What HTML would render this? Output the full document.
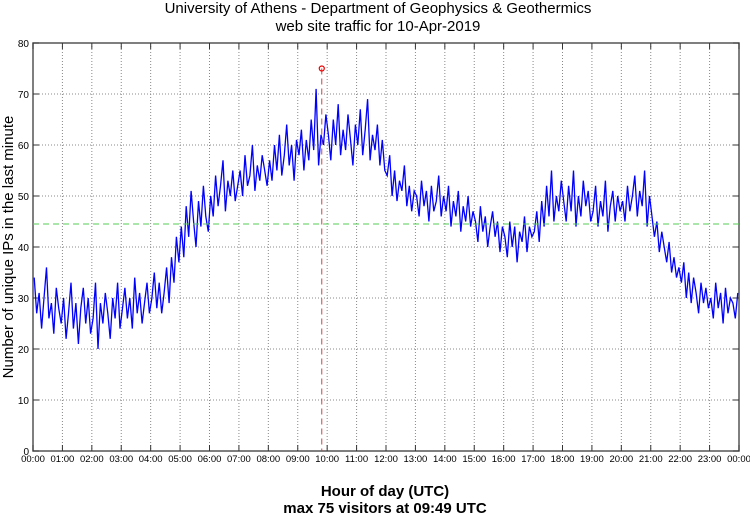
<!DOCTYPE html>
<html><head><meta charset="utf-8"><style>
body{margin:0;background:#fff;width:750px;height:515px;overflow:hidden;font-family:"Liberation Sans",sans-serif}
</style></head><body>
<svg id="chart" width="750" height="515" xmlns="http://www.w3.org/2000/svg" font-family="Liberation Sans, sans-serif">
<text x="378" y="13" text-anchor="middle" font-size="15">University of Athens - Department of Geophysics &amp; Geothermics</text>
<text x="378" y="31" text-anchor="middle" font-size="15">web site traffic for 10-Apr-2019</text>
<text transform="translate(13,247) rotate(-90)" text-anchor="middle" font-size="15">Number of unique IPs in the last minute</text>
<text x="385" y="496" text-anchor="middle" font-size="15" font-weight="bold">Hour of day (UTC)</text>
<text x="385" y="513" text-anchor="middle" font-size="15" font-weight="bold">max 75 visitors at 09:49 UTC</text>
<g id="grid"></g><g id="series"></g><g id="overlay"></g>
</svg>
<script>
const xTickLabels=["00:00","01:00","02:00","03:00","04:00","05:00","06:00","07:00","08:00","09:00","10:00","11:00","12:00","13:00","14:00","15:00","16:00","17:00","18:00","19:00","20:00","21:00","22:00","23:00","00:00"];
const yTicks=[0,10,20,30,40,50,60,70,80];
const visitors=[
34,27,31,24,30,36,26,29,23,32,28,25,
30,22,27,33,24,29,21,28,32,25,30,23,
26,33,20,29,25,31,27,22,30,26,33,24,
28,32,26,30,24,34,27,31,25,29,33,27,
30,35,28,33,27,31,36,29,38,33,42,37,
44,38,48,42,51,45,40,49,44,52,46,43,
50,46,54,48,52,57,47,53,50,55,49,52,
55,50,58,52,54,60,51,56,53,58,55,52,
57,53,60,55,62,54,58,64,56,60,53,61,
58,63,55,61,57,65,59,71,56,62,60,66,
62,57,65,60,68,58,63,59,66,61,56,64,
60,67,58,63,69,57,62,59,64,56,61,55,
54,58,50,55,49,53,51,56,48,52,47,51,
50,46,53,48,51,45,52,47,49,54,46,50,
47,52,44,49,46,51,43,48,45,50,44,47,
45,41,48,43,46,40,44,47,42,45,39,44,
42,38,45,40,44,37,43,41,46,39,44,42,
43,47,41,49,44,52,46,55,45,50,47,53,
49,45,52,47,55,44,50,46,53,48,51,45,
47,52,44,49,46,53,43,48,51,45,50,47,
49,45,52,47,50,54,46,51,48,55,44,50,
46,42,45,39,43,40,37,41,35,38,34,36,
33,37,30,35,29,34,31,27,33,29,32,28,
30,26,33,28,31,25,32,27,30,29,26,31];
const meanValue=[44.5];
const maxPoint=[589,75]; // minute of day (09:49), visitors
const stepMinutes=5;

const L=33,R=739,T=43,B=451;
const xs=m=>L+(R-L)*m/1440;
const ys=v=>B-(B-T)*v/80;
const NS="http://www.w3.org/2000/svg";
function mk(tag,attrs,parent){const e=document.createElementNS(NS,tag);for(const k in attrs)e.setAttribute(k,attrs[k]);parent.appendChild(e);return e;}
const grid=document.getElementById('grid'),ser=document.getElementById('series'),ov=document.getElementById('overlay');

mk('rect',{x:L,y:T,width:R-L,height:B-T,fill:'none',stroke:'#555','stroke-width':1.5},grid);
yTicks.forEach(v=>{
  const y=ys(v);
  if(v>0&&v<80){const g=mk('line',{x1:L,x2:R,y1:y,y2:y,stroke:'#888','stroke-dasharray':'1,2'},grid);
  
  }
  const t=mk('text',{x:L-4,y:y+4,'text-anchor':'end','font-size':10},grid);t.textContent=v;
  
  
  mk('line',{x1:L,x2:L+6,y1:y,y2:y,stroke:'#333'},grid);
  mk('line',{x1:R,x2:R-6,y1:y,y2:y,stroke:'#333'},grid);
});
xTickLabels.forEach((lab,i)=>{
  const x=xs(i*60);
  if(i>0&&i<24){const g=mk('line',{x1:x,x2:x,y1:T,y2:B,stroke:'#888','stroke-dasharray':'1,2'},grid);
  
  }
  mk('line',{x1:x,x2:x,y1:B,y2:B-6,stroke:'#333'},grid);
  mk('line',{x1:x,x2:x,y1:T,y2:T+6,stroke:'#333'},grid);
  const t=mk('text',{x:x,y:B+11,'text-anchor':'middle','font-size':9.5},grid);t.textContent=lab;
  
  
});
const mean=mk('line',{x1:L,x2:R,y1:ys(meanValue[0]),y2:ys(meanValue[0]),stroke:'#5c5','stroke-dasharray':'6,4'},ov);


const pts=visitors.map((v,i)=>xs(i*stepMinutes+stepMinutes/2).toFixed(1)+','+ys(v).toFixed(1)).join(' ');
const line=mk('polyline',{points:pts,fill:'none',stroke:'#00f','stroke-width':1.3},ser);


const mx=xs(maxPoint[0]),my=ys(maxPoint[1]);
const drop=mk('line',{x1:mx,x2:mx,y1:my,y2:B,stroke:'#c44','stroke-dasharray':'6,4'},ov);


const mark=mk('circle',{cx:mx,cy:my,r:2.5,fill:'none',stroke:'#e00','stroke-width':1.2},ov);


</script>
</body></html>
